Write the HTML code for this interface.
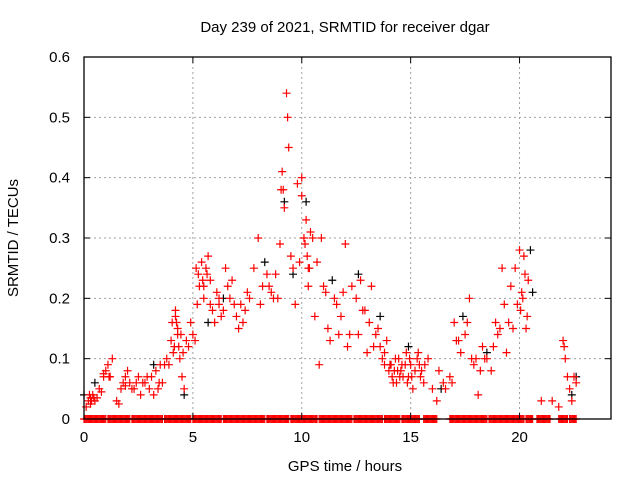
<!DOCTYPE html>
<html><head><meta charset="utf-8"><style>
body{margin:0;background:#fff}
svg text{font-family:"Liberation Sans",sans-serif;font-size:15px;fill:#000}
</style></head><body>
<svg id="c" width="640" height="480" xmlns="http://www.w3.org/2000/svg">
<rect width="640" height="480" fill="#fff"/>
<text x="345" y="32" text-anchor="middle">Day 239 of 2021, SRMTID for receiver dgar</text>
<text x="345" y="471" text-anchor="middle">GPS time / hours</text>
<text transform="translate(18,238) rotate(-90)" text-anchor="middle">SRMTID / TECUs</text>
<g id="grid"></g><g id="marks"></g><g id="axes"></g>
</svg>
<script>
const xTicks=[0,5,10,15,20];
const yTicks=[0,0.1,0.2,0.3,0.4,0.5,0.6];
const yTickLabels=["0","0.1","0.2","0.3","0.4","0.5","0.6"];
const redT=[0.1,0.2,0.3,0.4,0.5,0.6,0.7,0.8,0.9,1.0,1.1,1.2,1.3,1.5,1.6,1.7,1.8,1.9,2.0,2.1,2.3,2.5,2.6,2.8,3.0,3.1,3.2,3.3,3.5,3.6,3.8,3.9,4.0,4.1,4.2,4.25,4.3,4.35,4.4,4.5,4.6,4.7,4.8,4.9,5.0,5.1,5.2,5.3,5.4,5.5,5.6,5.7,5.8,5.9,6.0,6.1,6.2,6.3,6.5,6.6,6.7,6.8,7.0,7.2,7.4,7.6,7.8,8.0,8.2,8.4,8.6,8.8,9.0,9.1,9.15,9.2,9.3,9.35,9.4,9.5,9.6,9.7,9.8,9.9,10.0,10.0,10.1,10.2,10.3,10.4,10.5,10.6,10.7,10.8,10.9,11.0,11.2,11.3,11.5,11.7,11.8,12.0,12.1,12.3,12.5,12.7,12.9,13.1,13.3,13.5,13.7,13.9,14.0,14.2,14.3,14.5,14.6,14.8,15.0,15.1,15.3,15.5,15.6,15.8,16.0,16.2,16.5,16.8,17.0,17.1,17.3,17.5,17.7,17.9,18.0,18.1,18.3,18.5,18.7,18.9,19.0,19.2,19.3,19.4,19.5,19.6,19.8,19.9,20.0,20.1,20.2,20.3,20.4,21.0,21.5,21.8,22.0,22.1,22.2,22.3,22.5,22.6,
4.3,4.2,5.5,5.8,6.2,7.3,8.5,8.9,10.3,11.9,12.6,13.2,13.8,14.1,14.4,14.9,15.4,16.3,17.2,18.2,19.1,20.05,20.25,0.3,0.9,1.9,2.7,3.4,
14.05,14.15,14.25,14.35,14.45,14.55,14.65,14.75,14.85,14.95,15.05,15.2,15.35,15.45,15.65,13.6,13.8,13.4,13.0,12.8,12.2,11.6,11.1,10.15,10.25,10.35,9.05,8.7,8.1,7.5,7.1,6.9,6.4,5.65,5.45,5.25,5.15,4.15,4.05,4.45,4.55,3.7,3.45,2.9,2.4,2.2,1.15,0.25,0.45,0.35,17.6,17.8,18.4,18.8,19.7,20.15,20.35,16.6,16.9,22.05,22.4];
const redV=[0.02,0.03,0.025,0.04,0.03,0.035,0.05,0.045,0.07,0.08,0.09,0.07,0.1,0.03,0.025,0.05,0.06,0.07,0.08,0.06,0.05,0.07,0.04,0.06,0.05,0.07,0.04,0.08,0.09,0.06,0.1,0.09,0.13,0.11,0.18,0.16,0.15,0.12,0.1,0.07,0.05,0.13,0.12,0.16,0.14,0.13,0.19,0.22,0.26,0.2,0.25,0.27,0.23,0.18,0.16,0.21,0.19,0.17,0.25,0.22,0.2,0.23,0.17,0.19,0.18,0.2,0.25,0.3,0.22,0.24,0.21,0.24,0.29,0.41,0.38,0.35,0.54,0.5,0.45,0.27,0.25,0.19,0.39,0.26,0.37,0.4,0.3,0.33,0.22,0.31,0.3,0.17,0.26,0.09,0.3,0.22,0.15,0.13,0.2,0.14,0.17,0.29,0.12,0.22,0.2,0.23,0.18,0.16,0.12,0.15,0.1,0.13,0.08,0.06,0.1,0.07,0.09,0.11,0.09,0.05,0.1,0.08,0.06,0.1,0.05,0.03,0.06,0.07,0.16,0.13,0.11,0.14,0.2,0.09,0.1,0.04,0.12,0.1,0.08,0.16,0.14,0.25,0.19,0.11,0.16,0.22,0.25,0.19,0.28,0.21,0.27,0.15,0.23,0.03,0.03,0.02,0.13,0.1,0.07,0.05,0.07,0.06,
0.14,0.17,0.22,0.19,0.2,0.16,0.22,0.2,0.25,0.21,0.14,0.22,0.11,0.09,0.08,0.07,0.09,0.08,0.13,0.08,0.15,0.18,0.24,0.035,0.075,0.055,0.06,0.05,
0.09,0.07,0.08,0.06,0.1,0.08,0.07,0.09,0.06,0.1,0.07,0.08,0.11,0.07,0.09,0.12,0.09,0.14,0.11,0.18,0.14,0.19,0.21,0.29,0.27,0.25,0.38,0.2,0.19,0.21,0.15,0.19,0.18,0.24,0.23,0.24,0.25,0.12,0.16,0.14,0.11,0.09,0.06,0.07,0.06,0.05,0.07,0.04,0.035,0.03,0.16,0.1,0.1,0.12,0.15,0.2,0.17,0.05,0.06,0.12,0.03];
const blackT=[0.0,0.5,3.2,4.6,5.7,6.4,8.3,9.2,9.6,10.2,11.4,12.6,13.6,14.9,16.4,17.4,18.5,20.5,20.6,22.4,22.6];
const blackV=[0.04,0.06,0.09,0.04,0.16,0.2,0.26,0.36,0.24,0.36,0.23,0.24,0.17,0.12,0.05,0.17,0.11,0.28,0.21,0.04,0.07];
const zeroStart=[0.0,1.1,2.2,3.7,5.0,6.4,8.4,9.5,10.8,12.4,13.8,14.6,15.6,16.8,18.6,20.3,20.8,21.8,22.3];
const zeroEnd=[1.0,2.1,3.6,4.9,6.3,8.3,9.4,10.7,12.3,13.7,14.5,15.4,16.2,18.5,20.2,20.6,21.4,22.2,22.6];
const L=84,R=611,T=57,B=419,XMAX=24.2,YMAX=0.6;
const xs=v=>L+v/XMAX*(R-L), ys=v=>B-v/YMAX*(B-T);
const NS="http://www.w3.org/2000/svg";
function mk(tag,attrs,parent){const e=document.createElementNS(NS,tag);for(const k in attrs)e.setAttribute(k,attrs[k]);parent.appendChild(e);return e;}
const grid=document.getElementById('grid'),marks=document.getElementById('marks'),axes=document.getElementById('axes');
xTicks.forEach((t,i)=>{const x=xs(t);
 if(t>0){const g=mk('line',{x1:x,x2:x,y1:T,y2:B,stroke:'#a0a0a0','stroke-dasharray':'2,3'},grid);}
 mk('line',{x1:x,x2:x,y1:B,y2:B-6,stroke:'#000'},axes);mk('line',{x1:x,x2:x,y1:T,y2:T+6,stroke:'#000'},axes);
 const tx=mk('text',{x:x,y:B+23,'text-anchor':'middle'},axes);tx.textContent=t;
 });
yTicks.forEach((t,i)=>{const y=ys(t);
 if(t>0&&t<0.6){const g=mk('line',{x1:L,x2:R,y1:y,y2:y,stroke:'#a0a0a0','stroke-dasharray':'2,3'},grid);}
 mk('line',{x1:L,x2:L+6,y1:y,y2:y,stroke:'#000'},axes);mk('line',{x1:R,x2:R-6,y1:y,y2:y,stroke:'#000'},axes);
 const tx=mk('text',{x:L-14,y:y+5,'text-anchor':'end'},axes);tx.textContent=yTickLabels[i];
 });
const box=mk('rect',{x:L,y:T,width:R-L,height:B-T,fill:'none',stroke:'#000','stroke-width':1.3},axes);

function plus(t,v,col){const x=xs(t),y=ys(v);const p=mk('path',{d:`M${x-4},${y}h8M${x},${y-4}v8`,stroke:col,'stroke-width':1.2,fill:'none'},marks);return p;}
blackT.forEach((t,i)=>{const p=plus(t,blackV[i],'#000');
 });
redT.forEach((t,i)=>{const p=plus(t,redV[i],'#f00');
 });
zeroStart.forEach((s,i)=>{for(let t=s;t<=zeroEnd[i]+1e-6;t+=0.05){const p=plus(t,0,'#f00');
 }});
</script>
</body></html>
